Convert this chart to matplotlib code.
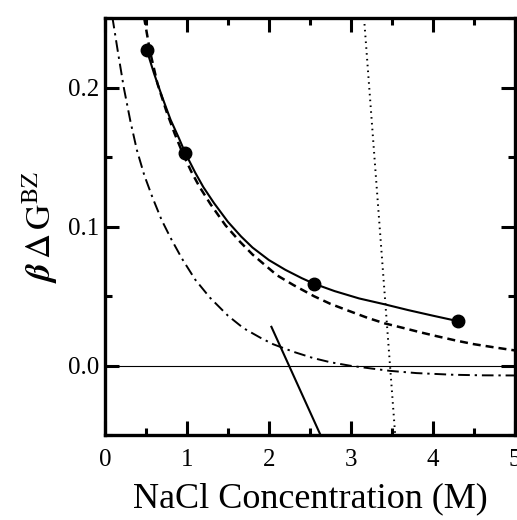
import matplotlib
matplotlib.use("Agg")
import matplotlib.pyplot as plt
from matplotlib.ticker import MultipleLocator

# data points (filled circles)
pts_x = [0.51, 0.98, 2.55, 4.31]
pts_y = [0.227, 0.153, 0.059, 0.032]

# solid curve through the points
solid_x = [0.51, 0.6, 0.7, 0.8, 0.9, 0.98, 1.1, 1.2, 1.33, 1.5, 1.66, 1.8, 2.0, 2.2,
           2.4, 2.55, 2.8, 3.1, 3.41, 3.7, 4.0, 4.31]
solid_y = [0.227, 0.210, 0.193, 0.177, 0.164, 0.153, 0.139, 0.1285, 0.117, 0.1035, 0.093,
           0.085, 0.076, 0.069, 0.063, 0.059, 0.0537, 0.0484, 0.0442, 0.0400, 0.0360, 0.032]

# dashed curve
dash_x = [0.476, 0.55, 0.64, 0.75, 0.85, 0.94, 1.05, 1.15, 1.29, 1.47, 1.65, 1.8, 1.94,
          2.1, 2.3, 2.55, 2.75, 2.95, 3.2, 3.41, 3.65, 3.85, 4.05, 4.29, 4.5, 4.75, 5.0]
dash_y = [0.251, 0.226, 0.203, 0.183, 0.167, 0.154, 0.140, 0.129, 0.116, 0.101, 0.089,
          0.080, 0.073, 0.065, 0.058, 0.050, 0.0445, 0.040, 0.0345, 0.0305, 0.027, 0.024,
          0.0212, 0.018, 0.0155, 0.0132, 0.011]

# dash-dot curve
dd_x = [0.09, 0.16, 0.23, 0.31, 0.39, 0.48, 0.58, 0.69, 0.8, 0.94, 1.1, 1.28, 1.5, 1.69,
        1.9, 2.05, 2.3, 2.54, 2.75, 2.99, 3.25, 3.48, 3.8, 4.25, 4.6, 5.0]
dd_y = [0.251, 0.225, 0.200, 0.176, 0.155, 0.137, 0.121, 0.105, 0.092, 0.077, 0.062, 0.049,
        0.036, 0.027, 0.020, 0.0155, 0.010, 0.0055, 0.0025, 0.0, -0.002, -0.0037, -0.0053,
        -0.0065, -0.0069, -0.007]

# steep solid segment
steep_x = [2.03, 2.63]
steep_y = [0.028, -0.050]

# dotted segment
dot_x = [3.16, 3.54]
dot_y = [0.250, -0.050]

plt.rcParams['font.family'] = ['Liberation Serif', 'DejaVu Serif']
plt.rcParams['mathtext.fontset'] = 'stix'

fig = plt.figure(figsize=(5.17, 5.20), dpi=100)
ax = fig.add_axes([0.203, 0.163, 0.793, 0.802])

ax.axhline(0.0, color='black', lw=0.8)
ax.plot(dd_x, dd_y, color='black', lw=1.4, dashes=(6, 2.5, 1.2, 2.5))
ax.plot(dash_x, dash_y, color='black', lw=1.8, dashes=(3.2, 2))
ax.plot(solid_x, solid_y, color='black', lw=1.5)
ax.plot(steep_x, steep_y, color='black', lw=1.5)
ax.plot(dot_x, dot_y, color='black', lw=1.4, dashes=(0.8, 2.2))
ax.plot(pts_x, pts_y, 'o', color='black', ms=9)

ax.set_xlim(0, 5)
ax.set_ylim(-0.05, 0.25)
ax.set_xticks([0, 1, 2, 3, 4, 5])
ax.set_xticklabels(['0', '1', '2', '3', '4', '5'])
ax.xaxis.set_minor_locator(MultipleLocator(0.5))
ax.set_yticks([0.0, 0.1, 0.2])
ax.set_yticklabels(['0.0', '0.1', '0.2'])
ax.yaxis.set_minor_locator(MultipleLocator(0.05))

ax.tick_params(which='both', direction='in', top=True, right=True,
               labelsize=18, width=2.2)
ax.tick_params(axis='x', pad=10)
ax.tick_params(axis='y', pad=4)
ax.tick_params(which='major', length=10)
ax.tick_params(which='minor', length=5)
for s in ax.spines.values():
    s.set_linewidth(2.4)

ax.set_xlabel('NaCl Concentration (M)', fontsize=26, labelpad=8)
ax.set_ylabel(r'$\boldsymbol{\beta}\,\Delta\,\mathrm{G}^{\mathrm{BZ}}$', fontsize=25, labelpad=6)

plt.savefig('out.png', dpi=100)
